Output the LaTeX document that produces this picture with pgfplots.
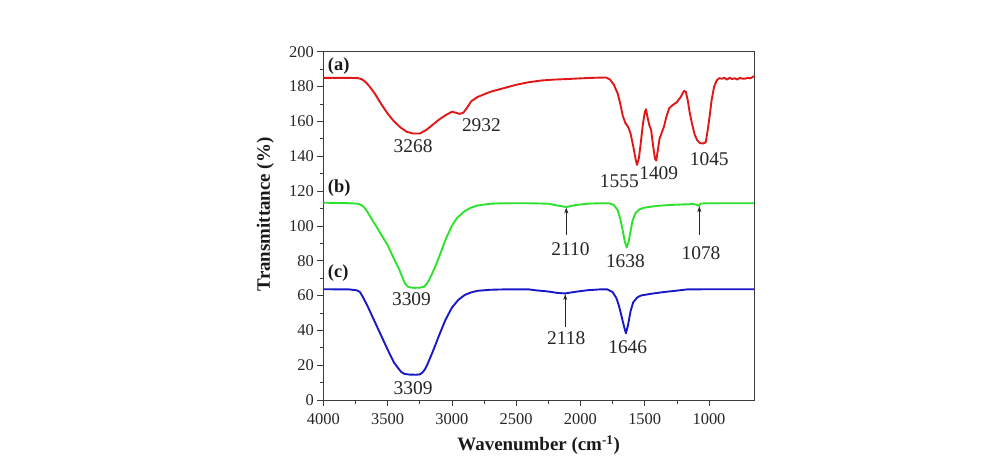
\documentclass[border=0pt]{standalone}
\usepackage{fontspec}
\setmainfont{Liberation Serif}
\usepackage{pgfplots}
\pgfplotsset{compat=1.18}
\usetikzlibrary{arrows.meta}
\definecolor{cred}{RGB}{226,22,22}
\definecolor{cgreen}{RGB}{45,226,45}
\definecolor{cblue}{RGB}{24,24,200}
\definecolor{axc}{RGB}{60,60,60}
\begin{document}
\begin{tikzpicture}
\path[use as bounding box] (-323.3bp,-64bp) rectangle (661.7bp,400bp);
\begin{axis}[
  scale only axis,
  width=430.7bp, height=348.3bp,
  x dir=reverse,
  xmin=650, xmax=4000,
  ymin=0, ymax=200,
  xtick={1000,1500,...,4000},
  ytick={0,20,...,200},
  minor x tick num=1,
  minor y tick num=1,
  tick align=outside,
  tick pos=left,
  major tick length=6bp,
  minor tick length=3.5bp,
  axis line style={axc, line width=0.8pt},
  every tick/.style={axc, line width=0.7pt},
  /pgf/number format/assume math mode=true,
  /pgf/number format/1000 sep={},
  tick label style={font=\fontsize{16.5}{16.5}\selectfont, text=black!85},
  xticklabel style={yshift=-4bp},
  xlabel={\textbf{Wavenumber (cm\textsuperscript{-1})}},
  ylabel={\textbf{Transmittance (\%)}},
  label style={font=\fontsize{19}{19}\selectfont, text=black!90},
  xlabel style={at={(axis description cs:0.5,-0.129)}, anchor=center},
  ylabel style={at={(axis description cs:-0.1346,0.533)}, anchor=center, rotate=0},
  clip=true,
]
\addplot[cred, line width=1.9pt, line join=round] coordinates {
(4000,185) (3800,185) (3730,184.8) (3700,184.2) (3670,182.5) (3640,180) (3600,176) (3550,170)
(3500,164.5) (3450,160) (3400,156.5) (3350,154) (3300,153) (3250,153) (3200,155)
(3150,158) (3100,161) (3050,163.5) (3000,165.5) (2970,165) (2940,164.3) (2910,165)
(2880,168) (2850,171.5) (2800,174) (2700,177) (2600,179) (2500,181) (2400,182.5)
(2300,183.5) (2200,184) (2100,184.3) (2000,184.7) (1900,185) (1800,185.2)
(1770,184) (1740,181) (1710,176) (1690,170) (1670,163) (1650,159) (1630,157)
(1610,153) (1590,146) (1570,138) (1560,135) (1545,139) (1530,148) (1515,158)
(1500,165) (1490,167) (1480,163) (1465,158) (1450,155) (1435,146) (1420,138.5)
(1410,137.5) (1395,145) (1385,150) (1370,153) (1350,157) (1330,163) (1310,167.5)
(1280,169.5) (1250,171) (1220,174) (1195,177.5) (1180,177) (1165,172) (1150,165)
(1130,158) (1110,152) (1090,149) (1070,147.5) (1045,147.3) (1025,148) (1010,155)
(995,163) (980,172) (960,180) (940,183.5) (920,184.8) (900,184.5) (880,185)
(860,184) (840,185) (820,184.3) (800,184.8) (780,184) (760,185) (740,184.5)
(720,184.5) (700,185) (680,184.7) (660,185.5) (650,186)
};
\addplot[cgreen, line width=1.9pt, line join=round] coordinates {
(4000,113.3) (3800,113) (3730,112.7) (3700,111.8) (3675,110) (3650,107.2) (3620,103.5) (3590,100) (3550,95)
(3500,89) (3450,81) (3410,75) (3385,70.5) (3365,67) (3345,65.2) (3320,64.6) (3290,64.4) (3250,64.5)
(3220,65) (3200,66.2) (3180,68.5) (3160,71.5) (3130,76.5) (3100,82) (3050,92) (3000,100) (2960,104.5)
(2900,108.5) (2850,110.5) (2800,111.7) (2700,112.7) (2600,113) (2400,113)
(2250,112.7) (2180,111.7) (2110,110.8) (2050,111.8) (1950,112.7) (1850,113)
(1780,113) (1740,112) (1710,109) (1690,104) (1670,97) (1655,91) (1640,87.5)
(1625,91) (1610,97) (1595,103) (1570,107.5) (1540,109.5) (1500,110.5) (1450,111)
(1400,111.5) (1300,112) (1200,112.3) (1120,112.5) (1090,112) (1078,111.5)
(1065,112.8) (1000,113) (900,113) (800,113) (650,113)
};
\addplot[cblue, line width=1.9pt, line join=round] coordinates {
(4000,63.6) (3800,63.5) (3740,63) (3715,62) (3695,59.5) (3670,56) (3650,53) (3600,45)
(3550,37) (3500,29) (3450,21.5) (3420,18.5) (3395,16.2) (3370,15) (3330,14.6) (3280,14.5) (3250,14.7)
(3230,15.7) (3210,17.5) (3190,20.5) (3150,27.5) (3100,37) (3050,46) (3000,53) (2950,57.5)
(2900,60.3) (2850,61.8) (2800,62.7) (2700,63.3) (2600,63.5) (2400,63.5)
(2350,63) (2250,62.3) (2180,61.5) (2120,61.2) (2050,62) (1950,63) (1850,63.5)
(1790,63.5) (1750,62) (1720,58.5) (1700,54) (1680,48) (1660,42) (1646,38.3)
(1630,43) (1610,51) (1590,56) (1560,58.8) (1530,60) (1450,61) (1350,62)
(1250,62.8) (1170,63.5) (1000,63.6) (800,63.6) (650,63.6)
};
\begin{scope}[every node/.style={font=\fontsize{19.5}{19.5}\selectfont, text=black!85}]
\node at (axis cs:3301,145.6) {3268};
\node at (axis cs:2770,158) {2932};
\node at (axis cs:1697,125.5) {1555};
\node at (axis cs:1391,130.3) {1409};
\node at (axis cs:998,138.3) {1045};
\node at (axis cs:3314,57.9) {3309};
\node at (axis cs:3301,6.7) {3309};
\node at (axis cs:2077,86.6) {2110};
\node at (axis cs:1650,79.5) {1638};
\node at (axis cs:1062,84.3) {1078};
\node at (axis cs:2110,35.5) {2118};
\node at (axis cs:1632,30.6) {1646};
\end{scope}
\begin{scope}[every node/.style={font=\bfseries\fontsize{18.5}{18.5}\selectfont, text=black!90, anchor=west, inner sep=0pt}]
\node at (axis cs:3965,192) {(a)};
\node at (axis cs:3965,121.7) {(b)};
\node at (axis cs:3965,72.8) {(c)};
\end{scope}
\draw[black!85, line width=0.8pt, -{Stealth[length=6pt,width=4pt]}] (axis cs:2110,94.8) -- (axis cs:2110,110.5);
\draw[black!85, line width=0.8pt, -{Stealth[length=6pt,width=4pt]}] (axis cs:1075,94.8) -- (axis cs:1075,111.3);
\draw[black!85, line width=0.8pt, -{Stealth[length=6pt,width=4pt]}] (axis cs:2118,42) -- (axis cs:2118,60.8);
\end{axis}
\end{tikzpicture}
\end{document}
